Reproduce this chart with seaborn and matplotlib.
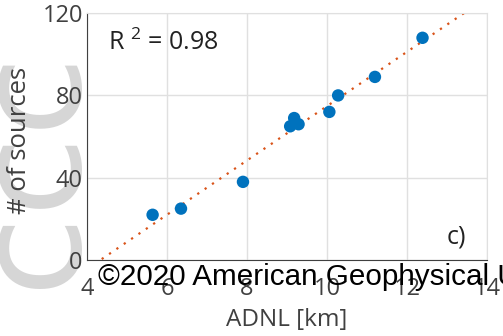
import numpy as np
import pandas as pd
import seaborn as sns
import matplotlib
matplotlib.use("Agg")
import matplotlib.pyplot as plt

adnl = [5.64, 6.35, 7.9, 9.08, 9.18, 9.29, 10.06, 10.28, 11.2, 12.39]
sources = [22, 25, 38, 65, 69, 66, 72, 80, 89, 108]
xticks = [4, 6, 8, 10, 12, 14]
yticks = [0, 40, 80, 120]
r2_label = "R $^2$ = 0.98"
panel_label = "c)"
xlabel = "ADNL [km]"
ylabel = "# of sources"
watermark = "\u00a92020 American Geophysical Union"

sns.set_style("white")
plt.rcParams['font.family'] = ['Open Sans', 'DejaVu Sans']
plt.rcParams['mathtext.fontset'] = 'custom'
plt.rcParams['mathtext.rm'] = 'Open Sans'

df = pd.DataFrame({"x": adnl, "y": sources})

fig = plt.figure(figsize=(5.03, 3.36), dpi=100)
ax = fig.add_axes([0.173, 0.226, 0.795, 0.735])

# faint gray watermark shapes on the left (behind everything)
fig.text(-0.075, 0.5, "ccc", rotation=90, fontsize=105, color="#d6d6d6",
         ha="left", va="center", family="DejaVu Sans", zorder=-5)

# fit line
coef = np.polyfit(df["x"], df["y"], 1)
xl = np.linspace(4, 14, 200)
yl = np.polyval(coef, xl)
ax.plot(xl, yl, linestyle=(0, (1, 3)), color="#D95319", linewidth=1.6, zorder=2)

sns.scatterplot(data=df, x="x", y="y", ax=ax, color="#0072BD", s=80,
                edgecolor="none", zorder=3)

ax.set_xlim(4, 14)
ax.set_ylim(0, 120)
ax.set_xticks(xticks)
ax.set_yticks(yticks)
ax.grid(True, color="#e0e0e0", linewidth=1)
ax.set_axisbelow(True)
for s in ["top", "right"]:
    ax.spines[s].set_color("#e0e0e0")
for s in ["left", "bottom"]:
    ax.spines[s].set_color("#404040")
ax.tick_params(axis="both", direction="in", length=3, color="#404040",
               labelsize=17, labelcolor="#404040")
ax.tick_params(axis="x", pad=12)
ax.tick_params(axis="y", pad=3)
ax.set_xlabel(xlabel, fontsize=17.5, color="#404040", labelpad=5)
ax.set_ylabel(ylabel, fontsize=18.5, color="#404040")
ax.yaxis.set_label_coords(-0.137, 0.485)

ax.text(0.052, 0.88, r2_label, transform=ax.transAxes, fontsize=18,
        color="#222222", ha="left", va="center")
ax.text(0.9, 0.095, panel_label, transform=ax.transAxes, fontsize=18,
        color="#222222", ha="left", va="center")

fig.text(0.195, 0.152, watermark, fontsize=21.3, color="black",
         family="Liberation Sans", ha="left", va="baseline", zorder=10)

fig.savefig("out.png", dpi=100)
